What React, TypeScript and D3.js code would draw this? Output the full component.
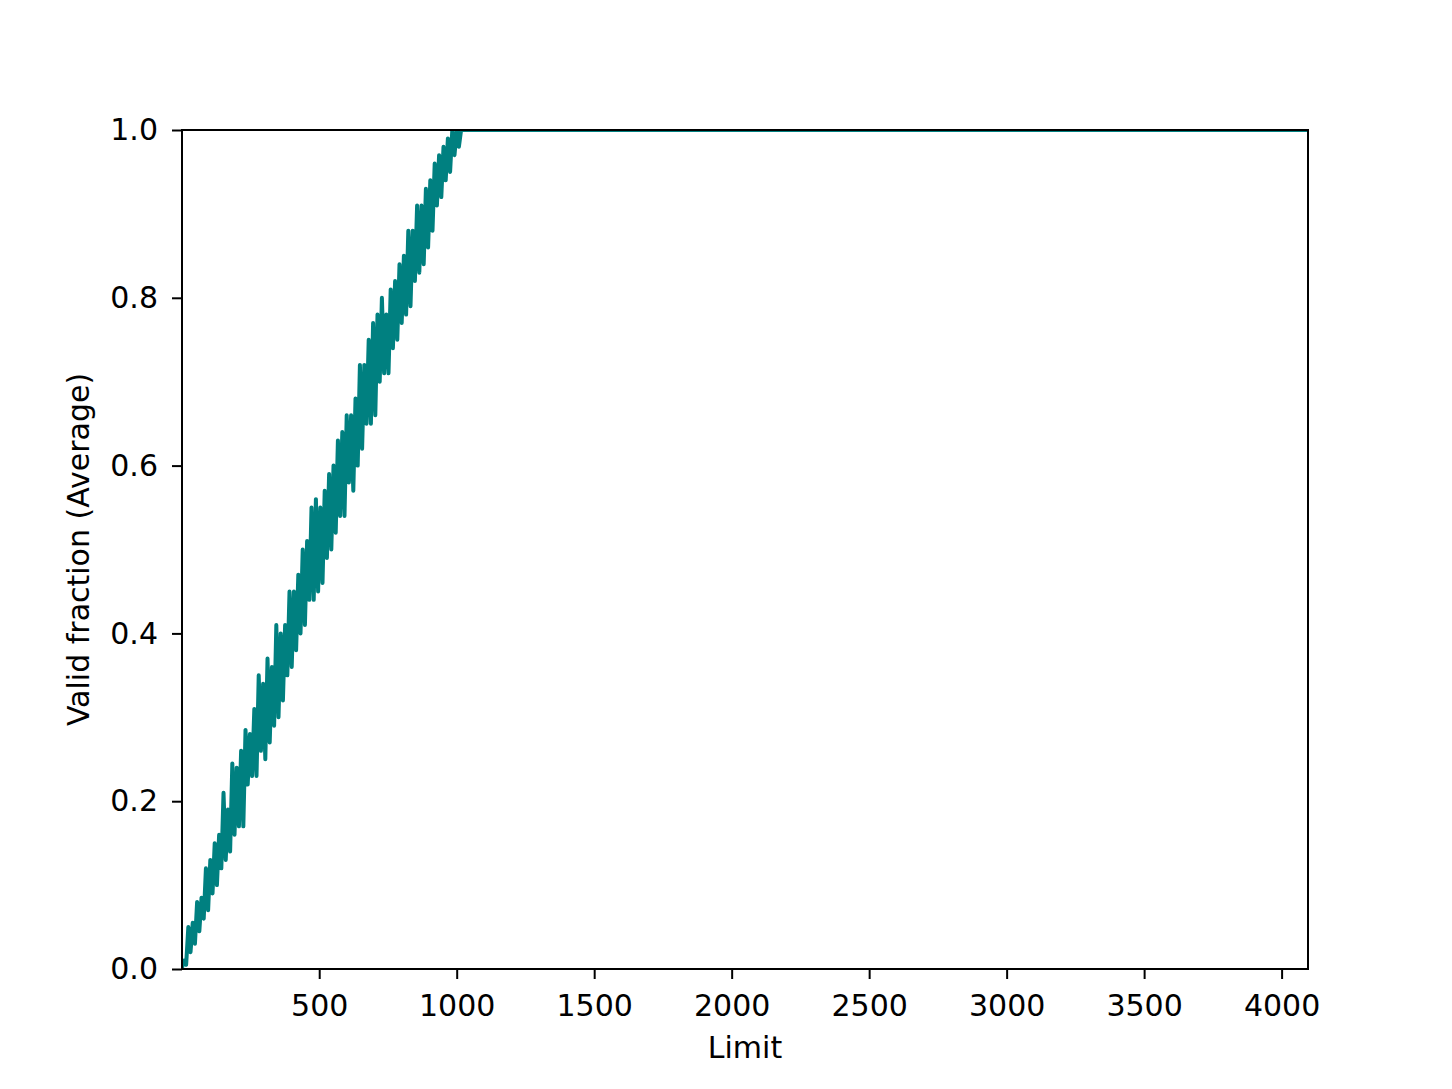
import { useEffect, useRef } from "react";
import * as d3 from "d3";

// sampled limits (every 8) on the rising part, then the flat tail
const riseLimits = d3.range(0, 1025, 8);
const riseValues = [
  0.0, 0.01, 0.005, 0.05, 0.02, 0.055, 0.03, 0.08, 0.045, 0.085,
  0.06, 0.12, 0.07, 0.13, 0.09, 0.15, 0.1, 0.16, 0.12, 0.21,
  0.13, 0.19, 0.14, 0.245, 0.16, 0.24, 0.17, 0.26, 0.17, 0.285,
  0.22, 0.28, 0.23, 0.31, 0.23, 0.35, 0.26, 0.34, 0.25, 0.37,
  0.27, 0.36, 0.29, 0.41, 0.3, 0.4, 0.32, 0.41, 0.35, 0.45,
  0.36, 0.45, 0.38, 0.47, 0.4, 0.5, 0.41, 0.51, 0.44, 0.55,
  0.44, 0.56, 0.45, 0.55, 0.46, 0.57, 0.49, 0.59, 0.5, 0.6,
  0.52, 0.63, 0.54, 0.64, 0.54, 0.66, 0.58, 0.66, 0.57, 0.68,
  0.6, 0.72, 0.62, 0.72, 0.65, 0.75, 0.65, 0.77, 0.66, 0.78,
  0.7, 0.8, 0.71, 0.78, 0.71, 0.81, 0.74, 0.82, 0.75, 0.84,
  0.77, 0.85, 0.78, 0.88, 0.79, 0.88, 0.82, 0.91, 0.83, 0.91,
  0.84, 0.93, 0.86, 0.94, 0.88, 0.96, 0.91, 0.97, 0.92, 0.98,
  0.94, 0.99, 0.95, 1.0, 0.97, 1.0, 0.98, 1.0, 1.0,
];
const tailLimits = [2048, 4096];
const tailValues = [1.0, 1.0];

const xTicks = [500, 1000, 1500, 2000, 2500, 3000, 3500, 4000];
const yTicks = [0, 0.2, 0.4, 0.6, 0.8, 1.0];

export default function App() {
  const svgRef = useRef<SVGSVGElement>(null);

  useEffect(() => {
    if (!svgRef.current) return;
    const svg = d3.select(svgRef.current);
    svg.selectAll("*").remove();

    const width = 1452;
    const height = 1089;
    const margin = { top: 130, right: 144, bottom: 120, left: 182 };
    const W = width - margin.left - margin.right;
    const H = height - margin.top - margin.bottom;
    const font = "DejaVu Sans, sans-serif";
    const fontSize = 30;
    const teal = "#008080";

    const data = [
      ...riseLimits.map((l, i) => ({ limit: l, value: riseValues[i] })),
      ...tailLimits.map((l, i) => ({ limit: l, value: tailValues[i] })),
    ];

    const x = d3.scaleLinear().domain([1, 4096]).range([0, W]);
    const y = d3.scaleLinear().domain([0, 1]).range([H, 0]);

    svg.append("rect").attr("width", width).attr("height", height).attr("fill", "#fff");

    svg
      .append("defs")
      .append("clipPath")
      .attr("id", "plot-clip")
      .append("rect")
      .attr("width", W)
      .attr("height", H);

    const g = svg
      .append("g")
      .attr("transform", `translate(${margin.left},${margin.top})`);

    const line = d3
      .line<{ limit: number; value: number }>()
      .x((d) => x(d.limit))
      .y((d) => y(d.value));

    g.append("path")
      .datum(data)
      .attr("clip-path", "url(#plot-clip)")
      .attr("fill", "none")
      .attr("stroke", teal)
      .attr("stroke-width", 4)
      .attr("stroke-linejoin", "round")
      .attr("stroke-linecap", "round")
      .attr("d", line);

    // X axis
    const xAxis = g
      .append("g")
      .attr("transform", `translate(0,${H})`)
      .call(d3.axisBottom(x).tickValues(xTicks).tickSize(10).tickPadding(16).tickFormat(d3.format("d")));
    xAxis.select(".domain").remove();
    xAxis.selectAll(".tick line").attr("stroke", "#000").attr("stroke-width", 2);
    xAxis
      .selectAll(".tick text")
      .attr("fill", "#000")
      .attr("font-size", fontSize)
      .attr("font-family", font);

    // Y axis
    const yAxis = g
      .append("g")
      .call(d3.axisLeft(y).tickValues(yTicks).tickSize(10).tickPadding(14).tickFormat(d3.format(".1f")));
    yAxis.select(".domain").remove();
    yAxis.selectAll(".tick line").attr("stroke", "#000").attr("stroke-width", 2);
    yAxis
      .selectAll(".tick text")
      .attr("fill", "#000")
      .attr("font-size", fontSize)
      .attr("font-family", font);

    // Frame
    g.append("rect")
      .attr("width", W)
      .attr("height", H)
      .attr("fill", "none")
      .attr("stroke", "#000")
      .attr("stroke-width", 2);

    // Labels
    g.append("text")
      .attr("x", W / 2)
      .attr("y", H + 89)
      .attr("text-anchor", "middle")
      .attr("font-size", fontSize)
      .attr("font-family", font)
      .attr("fill", "#000")
      .text("Limit");

    g.append("text")
      .attr("transform", `translate(${-93},${H / 2}) rotate(-90)`)
      .attr("text-anchor", "middle")
      .attr("font-size", fontSize)
      .attr("font-family", font)
      .attr("fill", "#000")
      .text("Valid fraction (Average)");
  }, []);

  return (
    <svg
      ref={svgRef}
      width={1452}
      height={1089}
      style={{ position: "absolute", left: 0, top: 0 }}
    />
  );
}
